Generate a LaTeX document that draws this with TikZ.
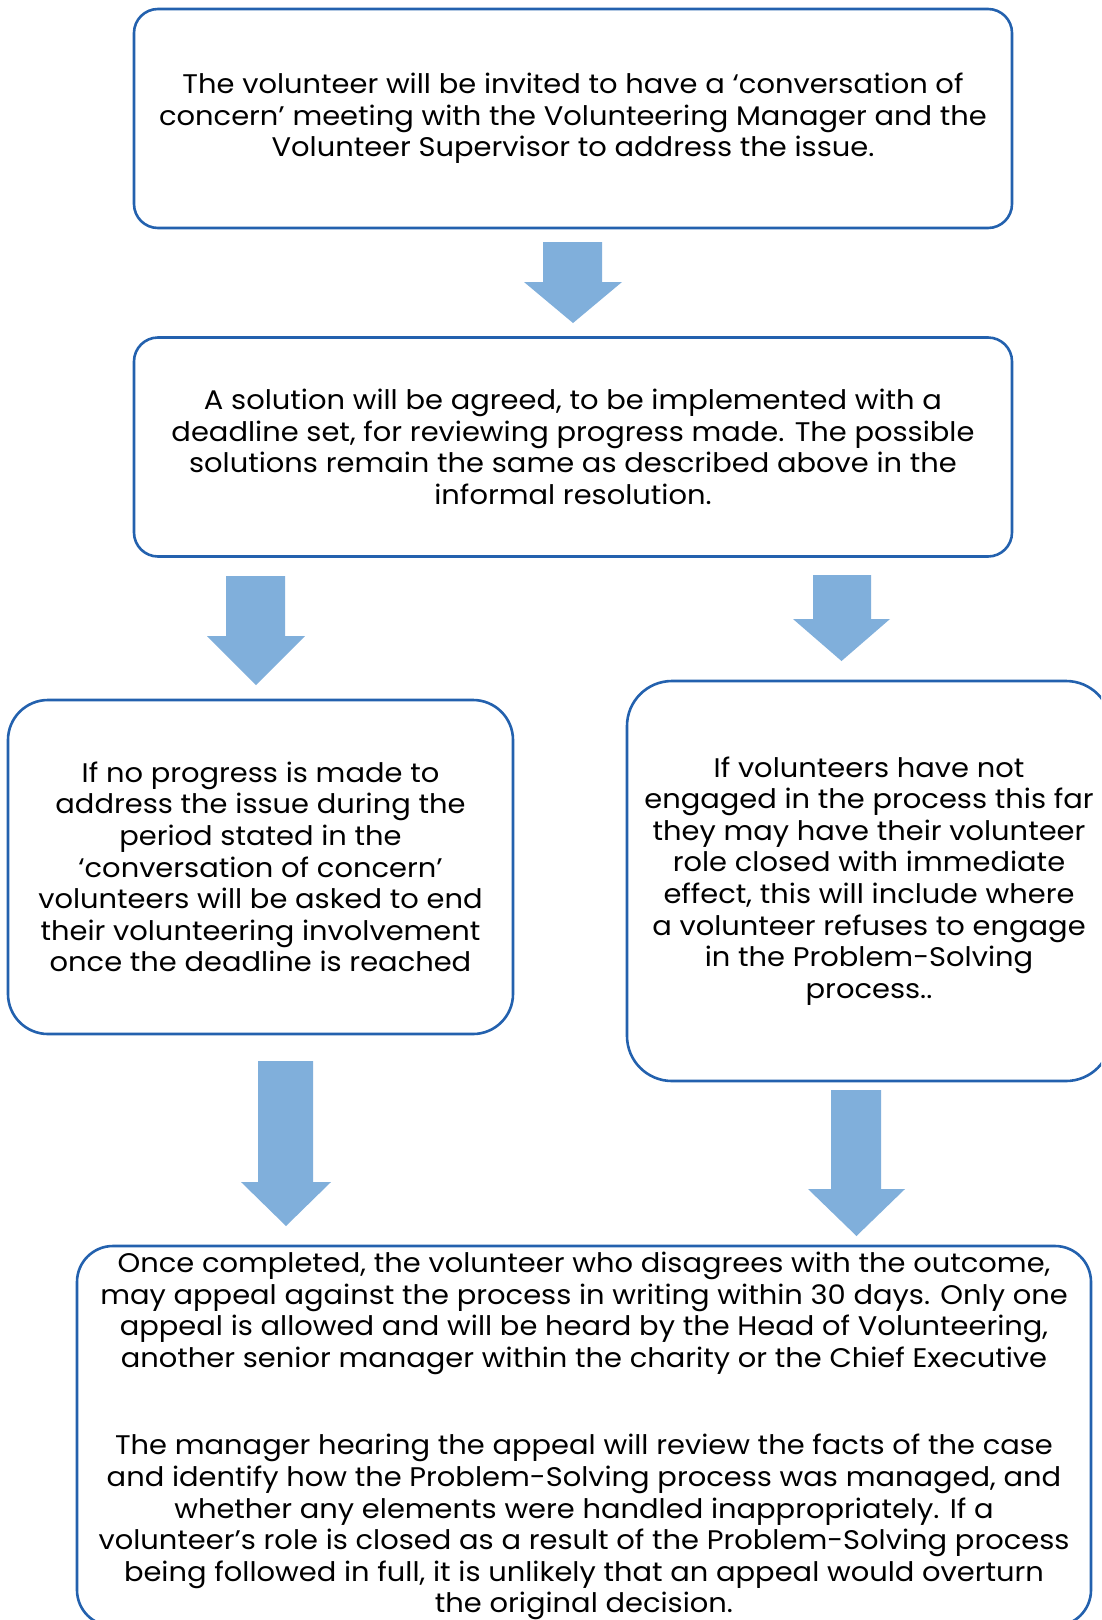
\documentclass[tikz,border=0pt]{standalone}
\usepackage{fontspec}
\setmainfont{Poppins}[FakeStretch=1.075]
\definecolor{boxblue}{HTML}{2361AE}
\definecolor{arrowblue}{HTML}{80AFDB}
\newcommand{\blockarrow}[7]{% shaft x1, x2, top y, head y, head x1, x2, tip y
  \fill[arrowblue] (#1,#3) -- (#2,#3) -- (#2,#4) -- (#6,#4) -- ({(#5+#6)/2},#7) -- (#5,#4) -- (#1,#4) -- cycle;}
\tikzset{
  flowbox/.style={draw=boxblue, line width=2.6pt, fill=white, align=center,
    font=\fontsize{26.9}{31.6}\selectfont, inner sep=0pt},
}
\begin{document}
\begin{tikzpicture}[x=1pt,y=-1pt]
\useasboundingbox (0,0) rectangle (1101,1620);
\clip (0,0) rectangle (1101,1620);
\fill[white] (0,0) rectangle (1101,1620);
% boxes
\node[flowbox, rounded corners=24pt, minimum width=878pt, minimum height=219pt] (b1) at (573,118.5)
 {The volunteer will be invited to have a ‘conversation of\\
  concern’ meeting with the Volunteering Manager and the\\
  Volunteer Supervisor to address the issue.};
\node[flowbox, rounded corners=24pt, minimum width=878pt, minimum height=219pt] (b2) at (573,447)
 {A solution will be agreed, to be implemented with a\\
  deadline set, for reviewing progress made. The possible\\
  solutions remain the same as described above in the\\
  informal resolution.};
\node[flowbox, rounded corners=40pt, minimum width=505pt, minimum height=334pt] (b3) at (260.5,867)
 {If no progress is made to\\
  address the issue during the\\
  period stated in the\\
  ‘conversation of concern’\\
  volunteers will be asked to end\\
  their volunteering involvement\\
  once the deadline is reached};
\node[flowbox, rounded corners=45pt, minimum width=484pt, minimum height=400pt] (b4) at (869,881)
 {If volunteers have not\\
  engaged in the process this far\\
  they may have their volunteer\\
  role closed with immediate\\
  effect, this will include where\\
  a volunteer refuses to engage\\
  in the Problem-Solving\\
  process..};
\node[flowbox, rounded corners=36pt, minimum width=1014pt, minimum height=380pt] (b5) at (584,1436)
 {Once completed, the volunteer who disagrees with the outcome,\\
  may appeal against the process in writing within 30 days. Only one\\
  appeal is allowed and will be heard by the Head of Volunteering,\\
  another senior manager within the charity or the Chief Executive\\[56pt]
  The manager hearing the appeal will review the facts of the case\\
  and identify how the Problem-Solving process was managed, and\\
  whether any elements were handled inappropriately. If a\\
  volunteer’s role is closed as a result of the Problem-Solving process\\
  being followed in full, it is unlikely that an appeal would overturn\\
  the original decision.};
% block arrows
\blockarrow{543}{602}{242}{282}{524}{622}{323}
\blockarrow{226}{285}{576}{636}{207}{305}{685}
\blockarrow{813}{871}{575}{619}{793}{890}{661}
\blockarrow{258}{313}{1061}{1182}{241}{331}{1226}
\blockarrow{831}{881}{1090}{1189}{808}{905}{1236}
\end{tikzpicture}
\end{document}
